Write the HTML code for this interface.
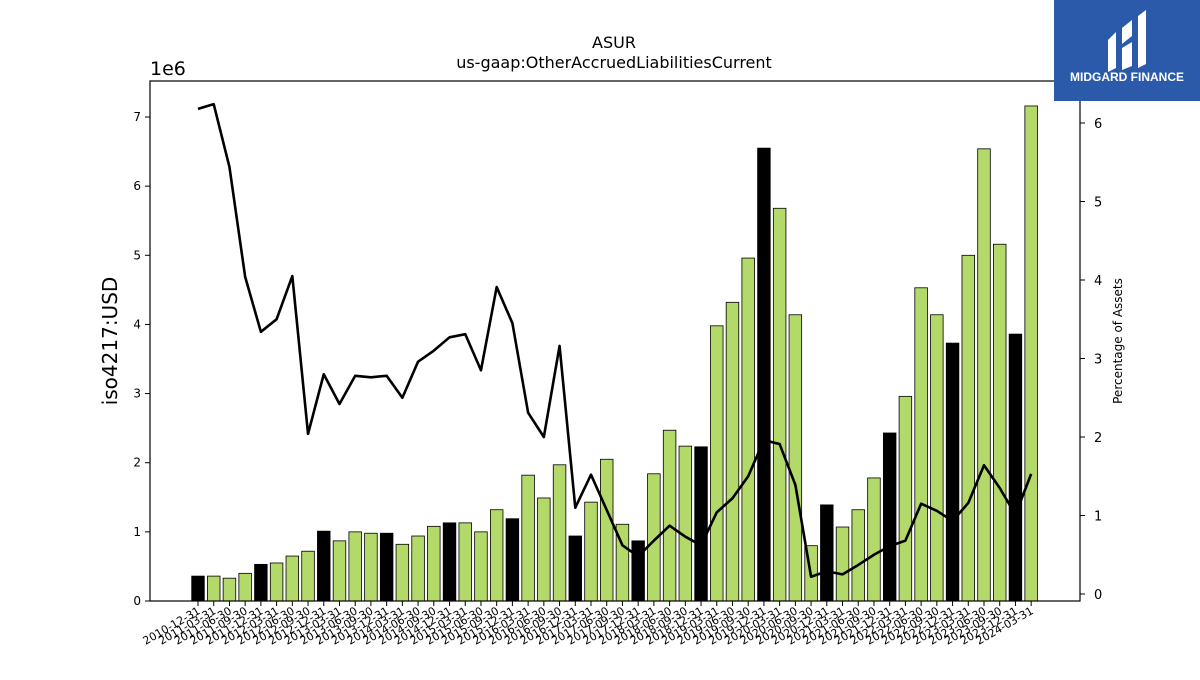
<!DOCTYPE html>
<html><head><meta charset="utf-8"><style>
body{margin:0;background:#fff;font-family:"Liberation Sans","DejaVu Sans",sans-serif}
</style></head><body>
<svg id="chart" width="1200" height="675" xmlns="http://www.w3.org/2000/svg" font-family="DejaVu Sans, Liberation Sans, sans-serif">
<text x="614" y="48" text-anchor="middle" font-size="16">ASUR</text>
<text x="614" y="68" text-anchor="middle" font-size="16">us-gaap:OtherAccruedLiabilitiesCurrent</text>
<text x="150" y="75" font-size="19">1e6</text>
<text transform="translate(117,341) rotate(-90)" text-anchor="middle" font-size="20">iso4217:USD</text>
<text transform="translate(1122,341) rotate(-90)" text-anchor="middle" font-size="12">Percentage of Assets</text>
<g id="bars"></g>
<g id="xticks"></g>
<g id="yticks"></g>
<g id="y2ticks"></g>
<polyline id="line" fill="none" stroke="#000" stroke-width="2.6" stroke-linejoin="round"/>
<rect x="150" y="81" width="930" height="520" fill="none" stroke="#000" stroke-width="1.2"/>
<g>
<rect x="1054" y="0" width="146" height="101" fill="#2b5aab"/>
<path d="M1108 40 L1116 32 L1116 68 L1108 72 Z M1122 28 L1132 20 L1132 36 L1122 44 Z M1122 48 L1132 42 L1132 66 L1122 70 Z M1138 16 L1146 10 L1146 64 L1138 68 Z" fill="#fff"/>
<text x="1127" y="81" text-anchor="middle" font-size="12" font-weight="bold" fill="#fff" font-family="Liberation Sans, sans-serif">MIDGARD FINANCE</text>
</g>
</svg>
<script>
const categories=["2010-12-31","2011-03-31","2011-06-30","2011-09-30","2011-12-31","2012-03-31","2012-06-30","2012-09-30","2012-12-31","2013-03-31","2013-06-30","2013-09-30","2013-12-31","2014-03-31","2014-06-30","2014-09-30","2014-12-31","2015-03-31","2015-06-30","2015-09-30","2015-12-31","2016-03-31","2016-06-30","2016-09-30","2016-12-31","2017-03-31","2017-06-30","2017-09-30","2017-12-31","2018-03-31","2018-06-30","2018-09-30","2018-12-31","2019-03-31","2019-06-30","2019-09-30","2019-12-31","2020-03-31","2020-06-30","2020-09-30","2020-12-31","2021-03-31","2021-06-30","2021-09-30","2021-12-31","2022-03-31","2022-06-30","2022-09-30","2022-12-31","2023-03-31","2023-06-30","2023-09-30","2023-12-31","2024-03-31"];
const values=[0.36,0.36,0.33,0.40,0.53,0.55,0.65,0.72,1.01,0.87,1.00,0.98,0.98,0.82,0.94,1.08,1.13,1.13,1.00,1.32,1.19,1.82,1.49,1.97,0.94,1.43,2.05,1.11,0.87,1.84,2.47,2.24,2.23,3.98,4.32,4.96,6.55,5.68,4.14,0.80,1.39,1.07,1.32,1.78,2.43,2.96,4.53,4.14,3.73,5.00,6.54,5.16,3.86,7.16];
const pct=[6.18,6.24,5.44,4.04,3.34,3.50,4.05,2.04,2.80,2.42,2.78,2.76,2.78,2.50,2.96,3.10,3.27,3.31,2.85,3.91,3.45,2.31,2.00,3.16,1.10,1.52,1.07,0.62,0.48,0.68,0.87,0.73,0.62,1.04,1.22,1.50,1.96,1.91,1.39,0.22,0.29,0.25,0.37,0.50,0.61,0.68,1.15,1.06,0.93,1.16,1.64,1.35,1.01,1.53];
const yTicks=[0,1,2,3,4,5,6,7];
const y2Ticks=[0,1,2,3,4,5,6];
const NS="http://www.w3.org/2000/svg";
const x=i=>198+i*15.72;
const y=v=>601-v*69.14;
const y2=v=>594-v*78.5;
function mk(t,a,p){const e=document.createElementNS(NS,t);for(const k in a)e.setAttribute(k,a[k]);p.appendChild(e);return e;}
const bars=document.getElementById('bars'),xt=document.getElementById('xticks'),yt=document.getElementById('yticks'),y2t=document.getElementById('y2ticks');
categories.forEach((c,i)=>{
  const r=mk('rect',{x:x(i)-6.3,y:y(values[i]),width:12.6,height:601-y(values[i]),fill:c.endsWith('12-31')?'#000':'#b3d96a',stroke:'#000','stroke-width':0.8},bars);
  
  
  mk('line',{x1:x(i),x2:x(i),y1:601,y2:606,stroke:'#000'},xt);
  const t=mk('text',{transform:`translate(${x(i)+3},${613}) rotate(-30)`,'text-anchor':'end','font-size':11},xt);
  t.textContent=c;
  
  
});
yTicks.forEach(v=>{
  mk('line',{x1:145,x2:150,y1:y(v),y2:y(v),stroke:'#000'},yt);
  const t=mk('text',{x:141,y:y(v)+4,'text-anchor':'end','font-size':12},yt);t.textContent=v;
  
  
});
y2Ticks.forEach(v=>{
  mk('line',{x1:1080,x2:1085,y1:y2(v),y2:y2(v),stroke:'#000'},y2t);
  const t=mk('text',{x:1094,y:y2(v)+5,'font-size':13},y2t);t.textContent=v;
  
  
});
document.getElementById('line').setAttribute('points',pct.map((p,i)=>x(i)+','+y2(p)).join(' '));
</script>
</body></html>
